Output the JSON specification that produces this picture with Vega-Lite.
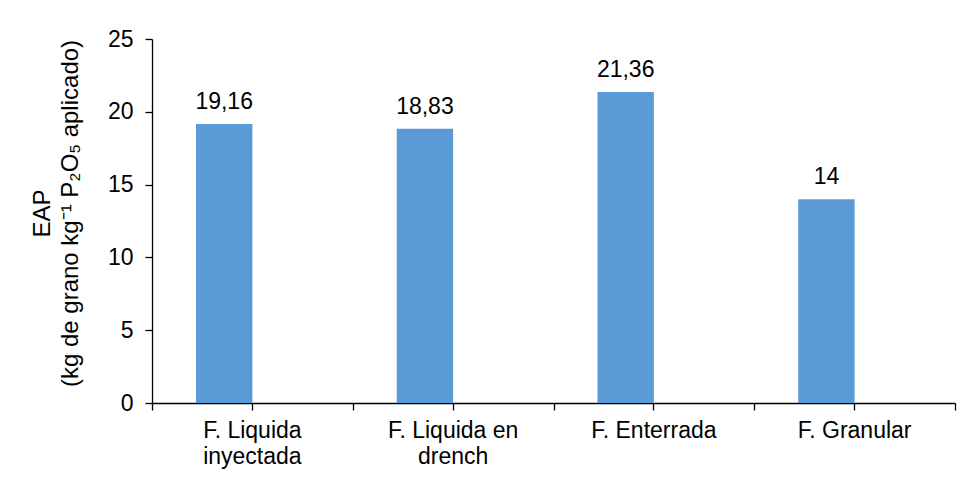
{
  "$schema": "https://vega.github.io/schema/vega-lite/v6.json",
  "width": 803,
  "height": 364,
  "autosize": {"type": "none"},
  "padding": {"left": 152, "top": 39, "right": 15, "bottom": 80},
  "background": "white",
  "data": {
    "values": [
      {"cat": "F. Liquida inyectada", "serie": "EAP", "eap": 19.16},
      {"cat": "F. Liquida en drench", "serie": "EAP", "eap": 18.83},
      {"cat": "F. Enterrada", "serie": "EAP", "eap": 21.36},
      {"cat": "F. Granular", "serie": "EAP", "eap": 14}
    ]
  },
  "layer": [
    {
      "mark": {"type": "bar", "color": "#5B9BD5"},
      "encoding": {
        "x": {
          "field": "cat", "type": "nominal", "sort": null,
          "scale": {"paddingInner": 0, "paddingOuter": 0},
          "axis": {
            "orient": "bottom", "title": null, "labels": false, "domain": true,
            "ticks": true, "tickBand": "extent", "tickSize": 7,
            "domainColor": "#000000", "tickColor": "#000000", "domainWidth": 1.3, "tickWidth": 1.3
          }
        },
        "xOffset": {
          "field": "serie", "type": "nominal",
          "scale": {"domain": ["EAP", "vacío"], "paddingInner": 0, "paddingOuter": 0.78}
        },
        "y": {
          "field": "eap", "type": "quantitative",
          "scale": {"domain": [0, 25], "nice": false},
          "axis": {
            "values": [0, 5, 10, 15, 20, 25],
            "grid": false, "tickSize": 7, "labelPadding": 12,
            "domainColor": "#000000", "tickColor": "#000000", "domainWidth": 1.3, "tickWidth": 1.3,
            "labelFontSize": 23, "labelColor": "#000000",
            "title": ["EAP", "(kg de grano kg⁻¹ P₂O₅ aplicado)"],
            "titleFontSize": 24, "titleFontWeight": "normal", "titleColor": "#000000",
            "titleLineHeight": 28, "titlePadding": 25, "titleY": 174
          }
        }
      }
    },
    {
      "mark": {"type": "text", "baseline": "alphabetic", "dy": -15, "fontSize": 23, "color": "#000000"},
      "encoding": {
        "x": {
          "field": "cat", "type": "nominal", "sort": null,
          "axis": {
            "orient": "bottom", "title": null, "domain": false, "ticks": true, "tickSize": 7,
            "tickColor": "#000000", "tickWidth": 1.3,
            "labelPadding": 9, "labelFontSize": 23, "labelColor": "#000000",
            "labelLineHeight": 26, "labelAngle": 0,
            "labelExpr": "datum.label == 'F. Liquida inyectada' ? ['F. Liquida', 'inyectada'] : datum.label == 'F. Liquida en drench' ? ['F. Liquida en', 'drench'] : datum.label"
          }
        },
        "xOffset": {"field": "serie", "type": "nominal"},
        "y": {"field": "eap", "type": "quantitative"},
        "text": {"field": "eap", "type": "quantitative", "format": ".2~f"}
      }
    }
  ],
  "resolve": {"axis": {"x": "independent"}},
  "config": {
    "font": "Liberation Sans",
    "view": {"stroke": null},
    "locale": {
      "number": {"decimal": ",", "thousands": ".", "grouping": [3], "currency": ["", " €"]}
    }
  }
}
